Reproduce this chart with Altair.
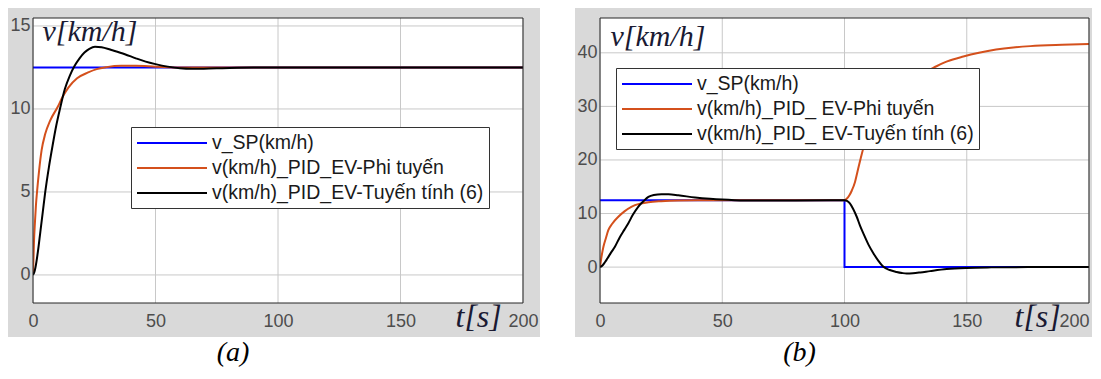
import altair as alt
import pandas as pd

# ---------------- data ----------------
T_TICKS = [0, 50, 100, 150, 200]

# panel (a)
a_labels = ["v_SP(km/h)", "v(km/h)_PID_EV-Phi tuyến", "v(km/h)_PID_EV-Tuyến tính (6)"]
a_yticks = [0, 5, 10, 15]
a_sp_t = [0, 200]
a_sp_v = [12.5, 12.5]
a_nl_t = [0, 0.4, 0.8, 1.2, 1.7, 2.5, 3.5, 5, 7, 10, 12, 14.5, 18, 22.5, 26, 30, 36, 42, 50, 60,
          80, 120, 160, 200]
a_nl_v = [0, 2.0, 3.2, 4.2, 5.1, 6.3, 7.5, 8.5, 9.3, 10.1, 10.7, 11.3, 11.85, 12.2, 12.4, 12.52,
          12.6, 12.6, 12.55, 12.5, 12.5, 12.5, 12.5, 12.5]
a_lin_t = [0, 0.5, 1, 2, 3, 4, 5, 6.5, 8, 9.5, 11, 13, 15, 17, 19, 21, 23, 25.3, 28, 32,
           37.5, 42, 46, 50, 55, 60, 65, 75, 90, 120, 160, 200]
a_lin_v = [0, 0.15, 0.45, 1.4, 2.6, 3.8, 5.0, 6.5, 7.8, 9.0, 10.0, 11.2, 12.0, 12.6, 13.05, 13.4,
           13.62, 13.75, 13.72, 13.55, 13.3, 13.05, 12.85, 12.7, 12.55, 12.45, 12.42, 12.45, 12.5,
           12.5, 12.5, 12.5]

# panel (b)
b_labels = ["v_SP(km/h)", "v(km/h)_PID_ EV-Phi tuyến", "v(km/h)_PID_ EV-Tuyến tính (6)"]
b_yticks = [0, 10, 20, 30, 40]
b_sp_t = [0, 100, 100, 200]
b_sp_v = [12.5, 12.5, 0, 0]
b_nl_t = [0, 0.5, 1.4, 2.4, 3.4, 5, 7.5, 10, 13, 16, 19.8, 25, 32, 40, 60, 100, 101, 102, 103,
          104.3, 105.3, 106.3, 107.7, 110, 113, 116, 120, 125, 130, 136.3, 142, 148.6, 155, 162,
          169, 176, 189, 200]
b_nl_v = [0, 1.6, 3.8, 5.4, 6.9, 8.1, 9.4, 10.4, 11.3, 11.8, 12.1, 12.3, 12.45, 12.5, 12.5, 12.5,
          12.8, 13.4, 14.3, 15.9, 17.8, 19.7, 22.2, 25.0, 27.6, 29.8, 31.6, 34.0, 35.8, 37.2, 38.4,
          39.3, 40.0, 40.6, 41.0, 41.25, 41.5, 41.65]
b_lin_t = [0, 1, 2, 3, 4.5, 6.1, 8, 10, 11.6, 13.5, 15.7, 17.8, 19.8, 22, 25.2, 28, 32, 38.9, 45,
           50, 55, 60, 70, 80, 99.5, 100, 101, 102.2, 103.5, 105, 106.3, 107.7, 109.8, 111.8,
           113.8, 115.9, 118.5, 121.3, 123.5, 125.4, 128, 131, 135, 141.8, 150, 160, 175, 200]
b_lin_v = [0, 0.3, 0.9, 1.6, 2.7, 3.8, 5.5, 7.0, 8.2, 9.8, 11.3, 12.3, 13.1, 13.45, 13.6, 13.58,
           13.4, 13.0, 12.75, 12.6, 12.5, 12.45, 12.42, 12.45, 12.5, 12.5, 12.35, 11.9, 10.9, 9.4,
           7.8, 6.3, 4.2, 2.6, 1.2, 0.05, -0.55, -0.9, -1.1, -1.2, -1.15, -1.0, -0.75, -0.37,
           -0.15, -0.05, 0, 0]

# ---------------- style ----------------
COLORS = ["#0000ff", "#d4501c", "#000000"]
GRAY = "#d9d9d9"
GRID = "#c8c8c8"
FRAME = "#262626"
LABEL = "#4d4d4d"
TITLE = "#1a1a33"
SANS = "Liberation Sans"
SERIF = "Liberation Serif"

one = pd.DataFrame({"k": [0]})


def make_panel(series, labels, yticks, ydom, W, H, right_pad, leg_xy, ytitle_xy, xtitle_xy,
               caption, last_label_right):
    xs = alt.Scale(domain=[0, 200], nice=False, zero=False)
    ys = alt.Scale(domain=ydom, nice=False, zero=False)
    if last_label_right:
        x_align = {"condition": {"test": "datum.value == 200", "value": "right"}, "value": "center"}
    else:
        x_align = "center"
    x_axis = alt.Axis(values=T_TICKS, grid=False, domain=False, ticks=False, tickSize=0,
                      labelFlush=False, labelAlign=x_align, labelPadding=9, labelFont=SANS,
                      labelFontSize=18, labelColor=LABEL, title="t[s]",
                      titleX=xtitle_xy[0], titleY=xtitle_xy[1],
                      titleAngle=0, titleAlign="left", titleBaseline="alphabetic",
                      titleFont=SERIF, titleFontStyle="italic", titleFontWeight="normal",
                      titleFontSize=32, titleColor=TITLE, zindex=1)
    y_axis = alt.Axis(values=yticks, grid=False, domain=False, ticks=False, tickSize=0,
                      labelFlush=False, labelPadding=3, labelFont=SANS, labelFontSize=18,
                      labelColor=LABEL, title="v[km/h]", titleX=ytitle_xy[0], titleY=ytitle_xy[1],
                      titleAngle=0, titleAlign="left", titleBaseline="alphabetic",
                      titleFont=SERIF, titleFontStyle="italic", titleFontWeight="normal",
                      titleFontSize=30, titleColor=TITLE, zindex=1)
    legend = alt.Legend(title=None, orient="none", legendX=leg_xy[0], legendY=leg_xy[1],
                        direction="vertical", strokeColor="#333333", fillColor="white",
                        padding=5, rowPadding=4, symbolType="M-1,0H6", symbolSize=400,
                        symbolStrokeWidth=2, labelOffset=54, labelFont=SANS, labelFontSize=19.5,
                        labelColor="#1a1a1a", labelLimit=600, cornerRadius=0)
    color = alt.Color("series:N", scale=alt.Scale(domain=labels, range=COLORS), legend=legend)

    bg = alt.Chart(one).mark_rect(color=GRAY).encode(
        x=alt.value(-25), x2=alt.value(W + right_pad), y=alt.value(-10), y2=alt.value(H + 34))
    plot_bg = alt.Chart(one).mark_rect(color="white").encode(
        x=alt.value(0), x2=alt.value(W), y=alt.value(0), y2=alt.value(H))
    grid_x = alt.Chart(pd.DataFrame({"t": T_TICKS})).mark_rule(color=GRID, strokeWidth=1).encode(
        x=alt.X("t:Q", scale=xs, axis=x_axis))
    grid_y = alt.Chart(pd.DataFrame({"v": yticks})).mark_rule(color=GRID, strokeWidth=1).encode(
        y=alt.Y("v:Q", scale=ys, axis=y_axis))

    layers = [bg, plot_bg, grid_x, grid_y]
    for (t, v, interp), lab in zip(series, labels):
        df = pd.DataFrame({"t": t, "v": v, "series": lab, "i": list(range(len(t)))})
        layers.append(
            alt.Chart(df).mark_line(strokeWidth=2, interpolate=interp, clip=True).encode(
                x=alt.X("t:Q", scale=xs, axis=x_axis),
                y=alt.Y("v:Q", scale=ys, axis=y_axis),
                color=color,
                order="i:Q",
            )
        )
    frame = alt.Chart(one).mark_rect(fillOpacity=0, stroke=FRAME, strokeWidth=1).encode(
        x=alt.value(0), x2=alt.value(W), y=alt.value(0), y2=alt.value(H))
    layers.append(frame)

    return alt.layer(*layers).properties(
        width=W, height=H,
        title=alt.TitleParams(caption, orient="bottom", anchor="middle", frame="group", dx=-45,
                              offset=2, font=SERIF, fontStyle="italic", fontWeight="normal",
                              fontSize=28, color="#000000", baseline="top"),
    )


pa = make_panel(
    [(a_sp_t, a_sp_v, "linear"), (a_nl_t, a_nl_v, "monotone"), (a_lin_t, a_lin_v, "monotone")],
    a_labels, a_yticks, [-1.69, 15.48], 490, 285, 17, (98, 109), (9, 22), (422, 23), "(a)", False)
pb = make_panel(
    [(b_sp_t, b_sp_v, "linear"), (b_nl_t, b_nl_v, "monotone"), (b_lin_t, b_lin_v, "monotone")],
    b_labels, b_yticks, [-6.7, 46.5], 489, 285, 3, (16, 50), (10, 27), (414, 23), "(b)", True)

chart = (
    alt.hconcat(pa, pb, spacing=35)
    .resolve_scale(x="independent", y="independent", color="independent")
    .resolve_legend(color="independent")
    .properties(padding=0, background="white")
    .configure_view(strokeWidth=0)
)

chart.save("out.html", embed_options={"renderer": "svg", "actions": False})
